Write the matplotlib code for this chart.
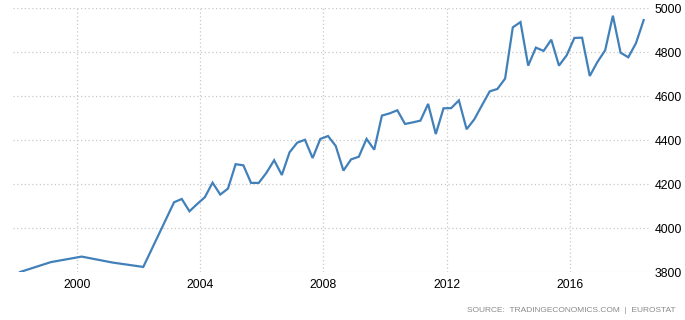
#!/usr/bin/env python3
import numpy as np
import matplotlib
matplotlib.use("Agg")
import matplotlib.pyplot as plt

plt.rcParams["font.family"] = ["Liberation Sans", "DejaVu Sans"]

# annual values before the quarterly series starts
annual_years = [1998, 1999, 2000, 2001, 2002]
annual_values = [3800, 3845, 3870, 3843, 3823]

# quarterly values, 2003 Q1 .. 2018 Q2
q_start = 2003
quarterly_values = [
    4117, 4132, 4076, 4109,
    4140, 4206, 4152, 4179,
    4290, 4285, 4205, 4205,
    4251, 4308, 4241, 4344,
    4388, 4401, 4318, 4405,
    4418, 4373, 4261, 4312,
    4324, 4405, 4356, 4511,
    4521, 4535, 4473, 4480,
    4488, 4564, 4427, 4544,
    4545, 4580, 4449, 4494,
    4558, 4621, 4632, 4679,
    4912, 4936, 4738, 4820,
    4805, 4856, 4738, 4785,
    4864, 4865, 4691, 4755,
    4808, 4965, 4797, 4776,
    4840, 4945,
]

x_ticks = [2000, 2004, 2008, 2012, 2016]
y_ticks = [3800, 4000, 4200, 4400, 4600, 4800, 5000]

# dates as decimal years (placed like the source does)
x_annual = np.array(annual_years) + 0.15
x_quarterly = q_start + 0.15 + 0.25 * np.arange(len(quarterly_values))
x = np.concatenate([x_annual, x_quarterly])
y = np.concatenate([annual_values, quarterly_values])

fig = plt.figure(figsize=(6.85, 3.2), dpi=100)
ax = fig.add_axes([0.019, 0.15, 0.931, 0.825])

ax.plot(x, y, color="#4180b9", linewidth=1.6, solid_joinstyle="miter")

ax.set_xlim(1997.92, 2018.63)
ax.set_ylim(3800, 5000)
ax.set_xticks(x_ticks)
ax.set_yticks(y_ticks)

ax.yaxis.tick_right()
ax.tick_params(axis="both", length=0, labelsize=8.8, colors="black")
ax.tick_params(axis="x", pad=5)
ax.tick_params(axis="y", pad=3)

ax.grid(True, color="#c8c8c8", linestyle=(0, (1, 2)), linewidth=0.9)
ax.set_axisbelow(True)
for s in ax.spines.values():
    s.set_visible(False)

fig.text(0.987, 0.018, "SOURCE:  TRADINGECONOMICS.COM  |  EUROSTAT",
         ha="right", va="bottom", fontsize=6.0, color="#8a8a8a")

fig.savefig("out.png", dpi=100)
